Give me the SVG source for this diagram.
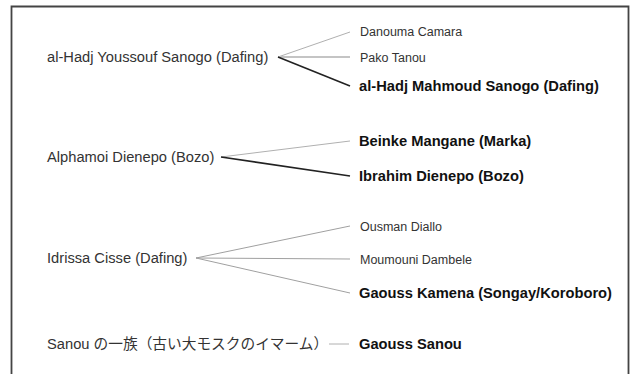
<svg xmlns="http://www.w3.org/2000/svg" width="633" height="374" viewBox="0 0 633 374">
<style>
text{font-family:"Liberation Sans",Arial,"Noto Sans CJK JP",sans-serif;fill:#333}
.m{font-size:14.7px}
.s{font-size:12.5px}
.b{font-size:14.7px;font-weight:bold;fill:#111}
.j{font-size:14.7px;font-family:"Noto Sans CJK JP",sans-serif}
.lt{stroke:#b0b0b0;stroke-width:1;fill:none}
.lm{stroke:#c4c4c4;stroke-width:2;fill:none}
.dk{stroke:#222;stroke-width:1.6;fill:none}
.md{stroke:#a0a0a0;stroke-width:1;fill:none}
</style>
<rect width="633" height="374" fill="#fff"/>
<path d="M11.5 380 V6.5 H628.5 V380" fill="none" stroke="#444" stroke-width="1.8"/>
<g id="connectors">
<line class="lt" x1="278" y1="57" x2="350" y2="32"/>
<line class="lm" x1="278" y1="57" x2="350" y2="57"/>
<line class="dk" x1="278" y1="57" x2="350" y2="86"/>
<line class="lt" x1="221" y1="157" x2="350" y2="141"/>
<line class="dk" x1="221" y1="157" x2="350" y2="176"/>
<line class="md" x1="196" y1="258" x2="350" y2="226"/>
<line class="md" x1="196" y1="258" x2="350" y2="259"/>
<line class="md" x1="196" y1="258" x2="350" y2="293"/>
<line class="lt" x1="329" y1="344" x2="349" y2="344"/>
</g>
<g id="n1"><text class="m" x="47" y="62">al-Hadj Youssouf Sanogo (Dafing)</text></g>
<g id="n1a"><text class="s" x="360" y="35.5">Danouma Camara</text></g>
<g id="n1b"><text class="s" x="360" y="61.5">Pako Tanou</text></g>
<g id="n1c"><text class="b" x="359" y="91">al-Hadj Mahmoud Sanogo (Dafing)</text></g>
<g id="n2"><text class="m" x="47" y="162">Alphamoi Dienepo (Bozo)</text></g>
<g id="n2a"><text class="b" x="359" y="146">Beinke Mangane (Marka)</text></g>
<g id="n2b"><text class="b" x="359" y="181">Ibrahim Dienepo (Bozo)</text></g>
<g id="n3"><text class="m" x="47" y="263">Idrissa Cisse (Dafing)</text></g>
<g id="n3a"><text class="s" x="360" y="230.5">Ousman Diallo</text></g>
<g id="n3b"><text class="s" x="360" y="263.5">Moumouni Dambele</text></g>
<g id="n3c"><text class="b" x="359" y="298">Gaouss Kamena (Songay/Koroboro)</text></g>
<g id="n4"><text class="m" x="47" y="349">Sanou <tspan class="j">の一族（古い大モスクのイマーム）</tspan></text></g>
<g id="n4a"><text class="b" x="359" y="349">Gaouss Sanou</text></g>
</svg>
